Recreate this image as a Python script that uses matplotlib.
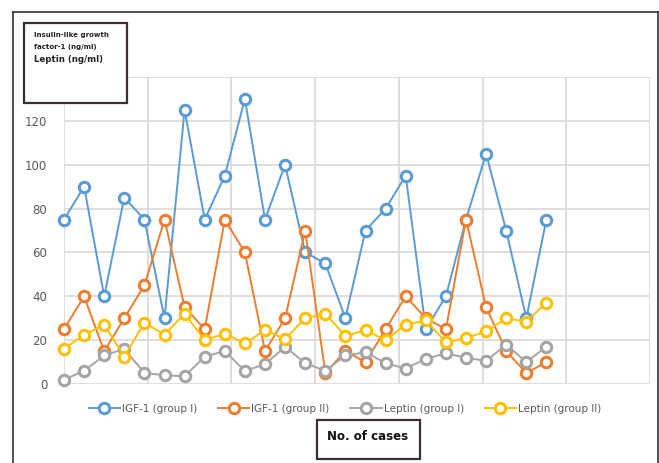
import matplotlib
matplotlib.use("Agg")
import matplotlib.pyplot as plt
from matplotlib.patches import Rectangle
from matplotlib.lines import Line2D
import numpy as np

cases = list(range(1, 26))
igf1_group1 = [75, 90, 40, 85, 75, 30, 125, 75, 95, 130, 75, 100, 60, 55, 30,
               70, 80, 95, 25, 40, 75, 105, 70, 30, 75]
igf1_group2 = [25, 40, 15, 30, 45, 75, 35, 25, 75, 60, 15, 30, 70, 5, 15,
               10, 25, 40, 30, 25, 75, 35, 15, 5, 10]
leptin_group1 = [2, 6, 13, 16, 5, 4, 3.5, 12.5, 15, 6, 9, 17, 9.5, 6, 13,
                 14.5, 9.5, 7, 11.5, 14, 12, 10.5, 18, 10, 17]
leptin_group2 = [16, 22.5, 27, 12.5, 28, 22.5, 32, 20, 23, 18.5, 24.5, 20.5, 30, 32, 22,
                 24.5, 20, 27, 29, 19, 21, 24, 30, 28.5, 37]
series_labels = ["IGF-1 (group I)", "IGF-1 (group II)", "Leptin (group I)", "Leptin (group II)"]
colors = ["#5B9BD5", "#ED7D31", "#A5A5A5", "#FFC000"]
y_ticks = [0, 20, 40, 60, 80, 100, 120]

W, H = 659, 463
fig = plt.figure(figsize=(W / 100, H / 100), dpi=100)
fig.patch.set_facecolor("white")

L, R, T, B = 64, 650, 77, 384
ax = fig.add_axes([L / W, 1 - B / H, (R - L) / W, (B - T) / H])
x = np.arange(len(cases))
xmax = (R - L) / 20.1
ax.set_xlim(0, xmax)
ax.set_ylim(0, 140)

for xv in np.linspace(0, xmax, 8):
    ax.axvline(xv, color="#DEDADA", lw=1.3, zorder=0)
for yv in range(0, 141, 20):
    ax.axhline(yv, color="#DEDADA", lw=1.3, zorder=0)

for data, c, lab in zip([igf1_group1, igf1_group2, leptin_group1, leptin_group2], colors, series_labels):
    ax.plot(x, data, color=c, lw=1.4, marker="o", markersize=7.5, markerfacecolor="white",
            markeredgecolor=c, markeredgewidth=2.2, label=lab, clip_on=False, zorder=3)

ax.set_xticks([])
ax.set_yticks(y_ticks)
ax.set_yticklabels([str(v) for v in y_ticks], color="#595959", fontsize=8.5)
ax.tick_params(axis="y", length=0, pad=12)
for s in ax.spines.values():
    s.set_visible(False)

# legend
handles = [Line2D([0], [0], color=c, lw=1.4, marker="o", markersize=7.5, markerfacecolor="white",
                  markeredgecolor=c, markeredgewidth=2.2) for c in colors]
fig.legend(handles, series_labels, loc="center", bbox_to_anchor=(345 / W, 1 - 409 / H),
           ncol=4, frameon=False, fontsize=7.5, labelcolor="#595959",
           handlelength=3.0, columnspacing=2.0, handletextpad=0.2)

# outer frame
fig.add_artist(Line2D([13 / W, 13 / W], [1 - 12 / H, 0], transform=fig.transFigure, color="#333333", lw=1.2))
fig.add_artist(Line2D([13 / W, 658 / W], [1 - 12 / H, 1 - 12 / H], transform=fig.transFigure, color="#333333", lw=1.2))
fig.add_artist(Line2D([658 / W, 658 / W], [1 - 12 / H, 0], transform=fig.transFigure, color="#333333", lw=1.2))

# title box
fig.add_artist(Rectangle((24 / W, 1 - 103 / H), (127 - 24) / W, (103 - 23) / H, transform=fig.transFigure,
                         facecolor="white", edgecolor="#3a3030", lw=1.6, zorder=5))
fig.text(34 / W, 1 - 35 / H, "Insulin-like growth", fontsize=5.0, fontweight="bold", color="#222222",
         va="center", ha="left", zorder=6)
fig.text(34 / W, 1 - 47 / H, "factor-1 (ng/ml)", fontsize=5.0, fontweight="bold", color="#222222",
         va="center", ha="left", zorder=6)
fig.text(34 / W, 1 - 60 / H, "Leptin (ng/ml)", fontsize=6.2, fontweight="bold", color="#222222",
         va="center", ha="left", zorder=6)

# x label box
fig.add_artist(Rectangle((317 / W, 1 - 459 / H), (420 - 317) / W, (459 - 420) / H, transform=fig.transFigure,
                         facecolor="white", edgecolor="#3a3030", lw=1.6, zorder=5))
fig.text(368 / W, 1 - 437 / H, "No. of cases", fontsize=8.5, fontweight="bold", color="#111111",
         va="center", ha="center", zorder=6)

fig.savefig("out.png", dpi=100)
